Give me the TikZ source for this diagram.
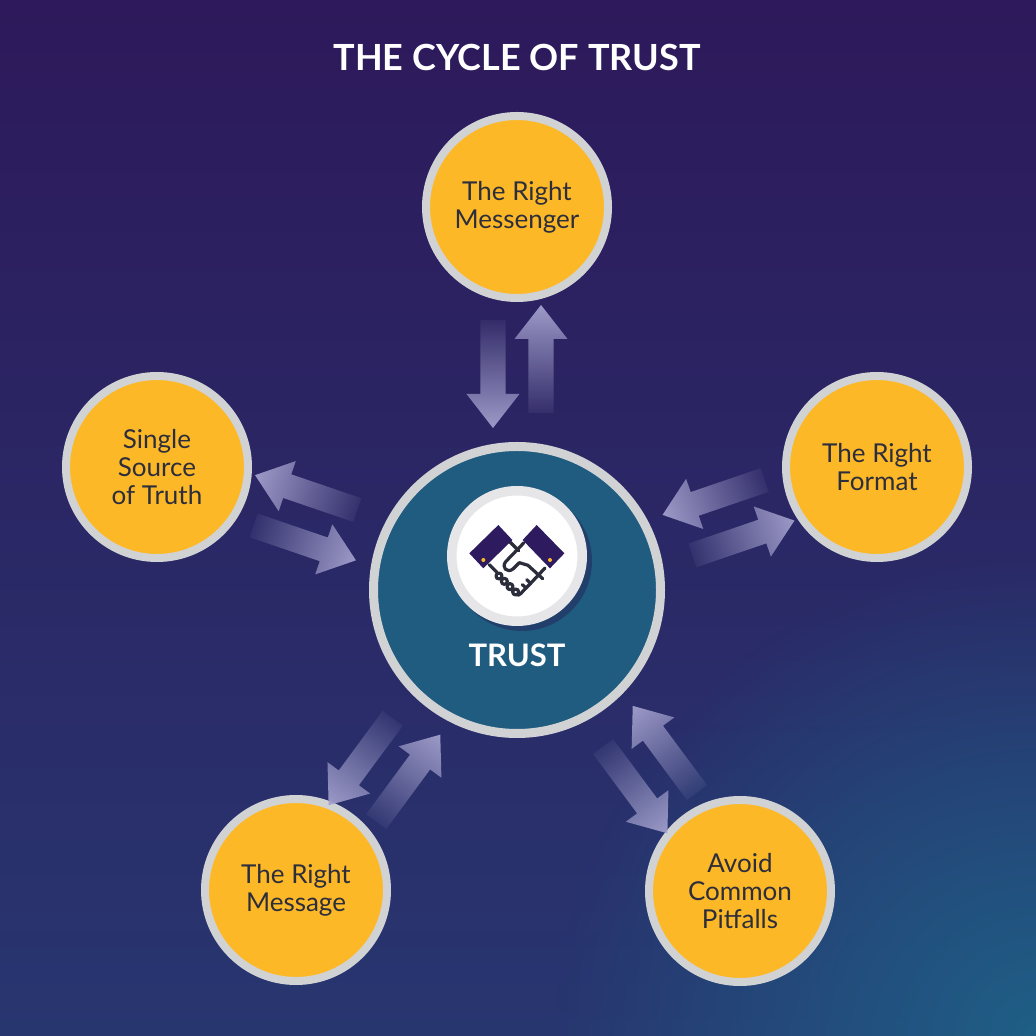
\documentclass[tikz,border=0pt]{standalone}
\usepackage{fontspec}
\setmainfont{Lato}
\usetikzlibrary{fadings}
\definecolor{bgtop}{HTML}{2D195B}
\definecolor{bgmid}{HTML}{2B2564}
\definecolor{bgbot}{HTML}{283670}
\definecolor{glowc}{HTML}{1F5F86}
\definecolor{gold}{HTML}{FDB827}
\definecolor{ringgray}{HTML}{D0D2D4}
\definecolor{hubteal}{HTML}{1F5C80}
\definecolor{ringlight}{HTML}{E6E6E8}
\definecolor{shadowc}{HTML}{223F6C}
\definecolor{cuff}{HTML}{2E1A5E}
\definecolor{inkc}{HTML}{2B2D3A}
\definecolor{labelc}{HTML}{2D2E3C}
\definecolor{arrowc}{RGB}{163,160,205}
\tikzfading[name=fadeout, left color=transparent!92, right color=transparent!5]
\tikzfading[name=fadein, left color=transparent!5, right color=transparent!92]
\tikzfading[name=glowfade, inner color=transparent!0, outer color=transparent!100]
\tikzset{
  bubble/.style={circle, draw=ringgray, line width=8pt, fill=gold, minimum size=182pt,
    inner sep=0pt, align=center, text=labelc, font=\fontsize{26}{28}\selectfont},
  hubstyle/.style={circle, draw=ringgray, line width=9pt, fill=hubteal, minimum size=287pt, inner sep=0pt},
  iconstyle/.style={circle, draw=ringlight, line width=9.5pt, fill=white, minimum size=130.5pt, inner sep=0pt},
  titlestyle/.style={text=white, font=\fontsize{36}{40}\selectfont\bfseries},
  truststyle/.style={text=white, font=\fontsize{31}{34}\selectfont\bfseries},
  inkline/.style={draw=inkc, line width=3.2pt, line cap=round, line join=round}
}
\newcommand{\arrowpair}[1]{%
  \pgfmathanglebetweenpoints{\pgfpointanchor{hub}{center}}{\pgfpointanchor{#1}{center}}%
  \edef\pairangle{\pgfmathresult}%
  \begin{scope}[transform canvas={shift={(hub.center)},rotate=\pairangle}]
    \fill[arrowc,path fading=fadein] (270,36.5) -- (196,36.5) -- (196,50.5) -- (162,24) -- (196,-2.5) -- (196,11.5) -- (270,11.5) -- cycle;
    \fill[arrowc,path fading=fadeout] (177,-11.5) -- (251,-11.5) -- (251,2.5) -- (285,-24) -- (251,-50.5) -- (251,-36.5) -- (177,-36.5) -- cycle;
  \end{scope}}
\begin{document}
\begin{tikzpicture}[x=1pt,y=1pt]
\useasboundingbox (0,0) rectangle (1036,1036);
\shade[top color=bgtop, middle color=bgmid, bottom color=bgbot] (0,0) rectangle (1036,1036);
\begin{scope}
  \clip (0,0) rectangle (1036,1036);
  \fill[glowc, path fading=glowfade] (1036,0) circle (480);
\end{scope}

\node[titlestyle] (title) at (517,979) {THE CYCLE OF TRUST};

\node[hubstyle] (hub) at (517,446) {};
\fill[shadowc] (522,475) circle (70);
\node[iconstyle] (icon) at (517,480) {};
\node[truststyle] (trust) at (517,381) {TRUST};

\node[bubble] (top) at (517,829) {The Right\\Messenger};
\node[bubble] (left) at (157,569) {Single\\Source\\of Truth};
\node[bubble] (right) at (877,569) {The Right\\Format};
\node[bubble] (bl) at (296,146) {The Right\\Message};
\node[bubble] (br) at (740,145) {Avoid\\Common\\Pitfalls};

% handshake icon
\begin{scope}[shift={(icon.center)}, xscale=1/3, yscale=-1/3, shift={(-261,-258)}]
  \draw[inkline] (238,214) -- (266,242);
  \draw[inkline] (178,284) -- (200,306);
  \draw[inkline] (282,218) -- (228,274) .. controls (212,292) and (232,312) .. (250,296) -- (268,278) -- (294,286) -- (338,326);
  \draw[inkline, fill=white] (207,318) circle (9);
  \draw[inkline, fill=white] (223,334) circle (9);
  \draw[inkline, fill=white] (240,350) circle (9);
  \draw[inkline, fill=white] (257,366) circle (9);
  \draw[inkline] (345,294) -- (302,340) -- (288,354) -- (272,371) -- (264,376);
  \draw[inkline] (302,340) -- (290,329);
  \draw[inkline] (288,354) -- (277,344);
  \fill[cuff] (118,250) -- (205,165) -- (247,210) -- (160,295) -- cycle;
  \fill[cuff] (278,210) -- (320,165) -- (403,250) -- (360,295) -- cycle;
  \fill[gold] (160,270) circle (6);
  \fill[gold] (360,270) circle (6);
\end{scope}

\arrowpair{top}
\arrowpair{left}
\arrowpair{right}
\arrowpair{bl}
\arrowpair{br}
\end{tikzpicture}
\end{document}
